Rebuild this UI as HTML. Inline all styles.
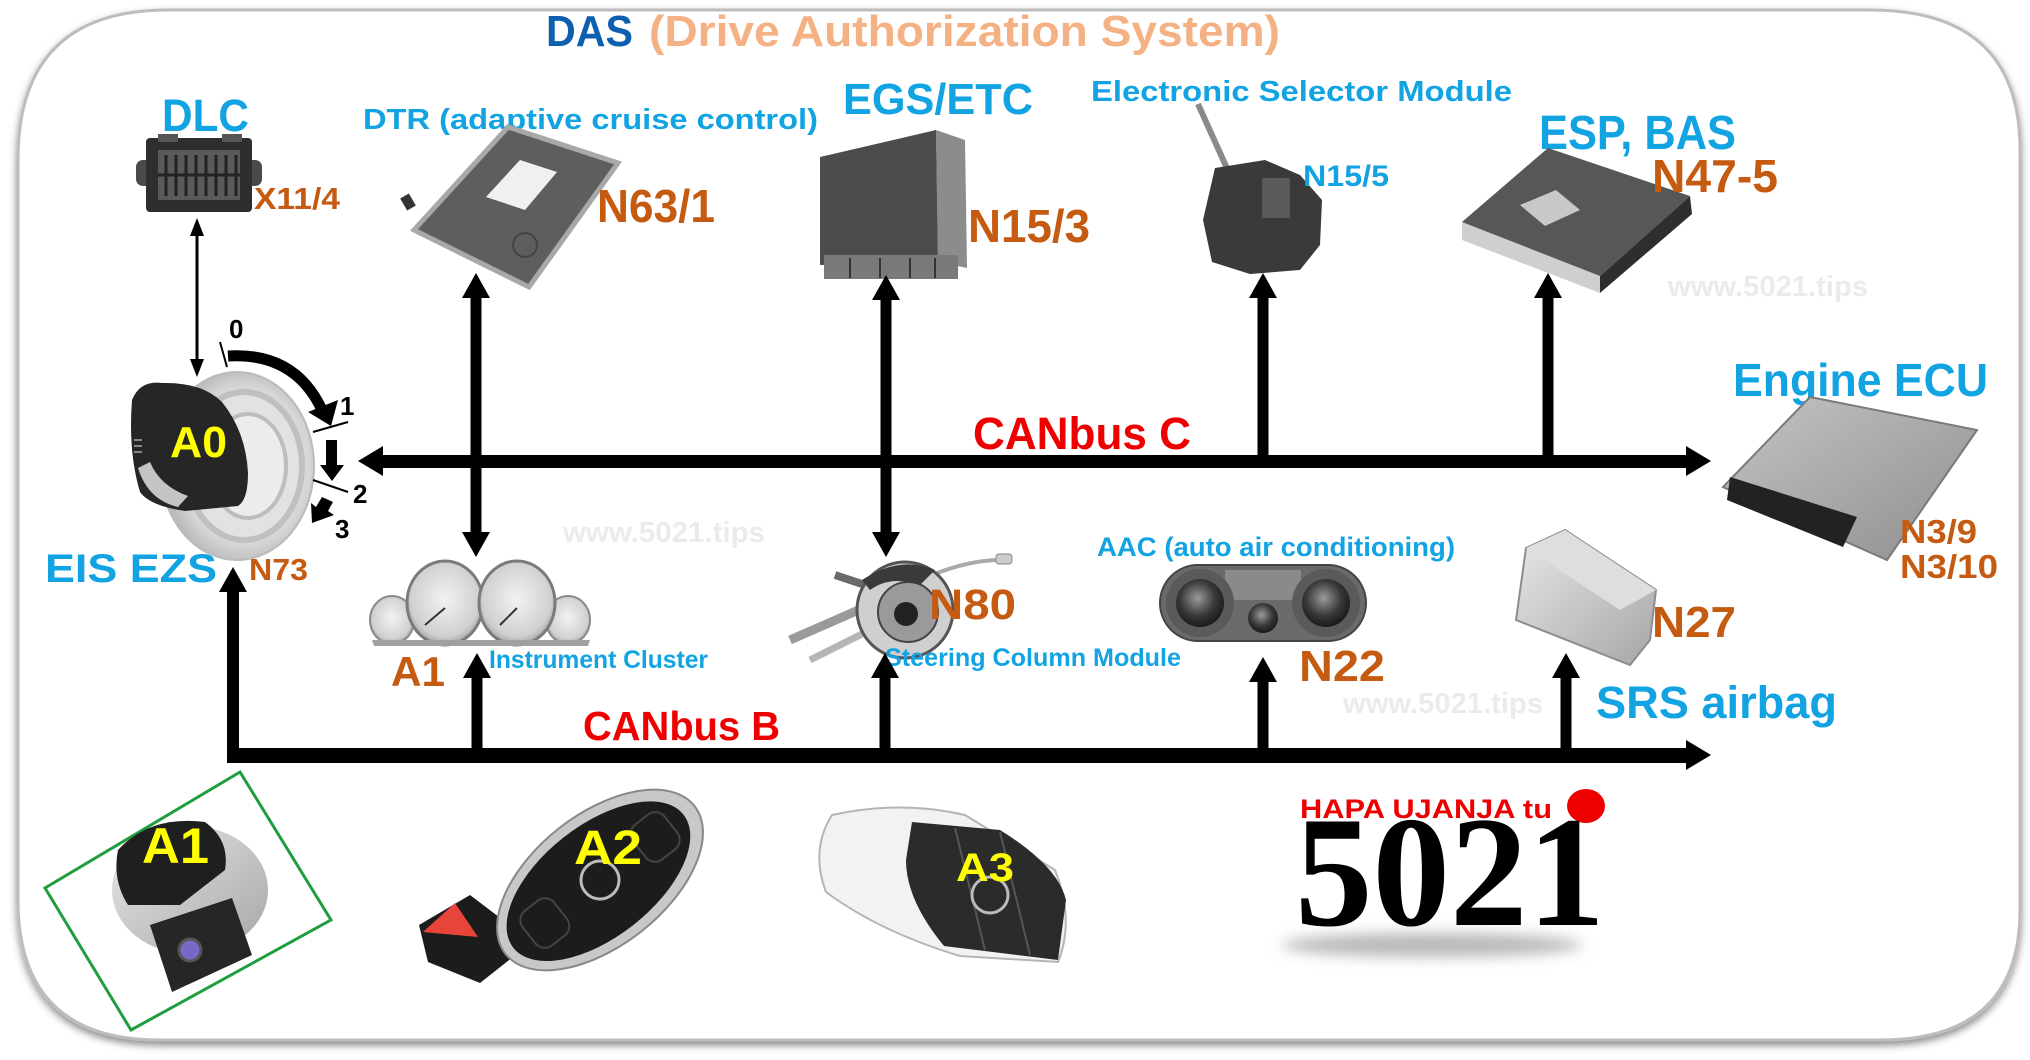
<!DOCTYPE html>
<html>
<head>
<meta charset="utf-8">
<style>
  html,body{margin:0;padding:0;background:#fff;}
  svg{display:block;}
  text{font-family:"Liberation Sans",Arial,sans-serif;font-weight:bold;}
  .b{fill:#12a3e3;}
  .o{fill:#c55a11;}
  .r{fill:#ee0000;}
  .y{fill:#ffff00;}
  .w{fill:#ebebeb;}
</style>
</head>
<body>
<svg width="2030" height="1060" viewBox="0 0 2030 1060" xmlns="http://www.w3.org/2000/svg">
  <defs>
    <filter id="sh" x="-5%" y="-5%" width="110%" height="115%">
      <feDropShadow dx="0" dy="4" stdDeviation="4" flood-color="#000" flood-opacity="0.45"/>
    </filter>
    <filter id="blur" x="-20%" y="-100%" width="140%" height="300%">
      <feGaussianBlur stdDeviation="7"/>
    </filter>
    <radialGradient id="ring" cx="0.55" cy="0.5" r="0.6">
      <stop offset="0" stop-color="#f4f4f4"/>
      <stop offset="0.7" stop-color="#d6d6d6"/>
      <stop offset="1" stop-color="#a8a8a8"/>
    </radialGradient>
    <radialGradient id="gauge" cx="0.5" cy="0.45" r="0.6">
      <stop offset="0" stop-color="#f2f2f2"/>
      <stop offset="0.75" stop-color="#d0d0d0"/>
      <stop offset="1" stop-color="#8a8a8a"/>
    </radialGradient>
    <radialGradient id="knob" cx="0.45" cy="0.4" r="0.6">
      <stop offset="0" stop-color="#9a9a9a"/>
      <stop offset="0.6" stop-color="#3a3a3a"/>
      <stop offset="1" stop-color="#1a1a1a"/>
    </radialGradient>
    <linearGradient id="silver" x1="0" y1="0" x2="1" y2="1">
      <stop offset="0" stop-color="#e8e8e8"/>
      <stop offset="1" stop-color="#a6a6a6"/>
    </linearGradient>
    <linearGradient id="ecu" x1="0" y1="0" x2="1" y2="1">
      <stop offset="0" stop-color="#c4c4c4"/>
      <stop offset="1" stop-color="#8e8e8e"/>
    </linearGradient>
  </defs>

  <!-- frame -->
  <path filter="url(#sh)" d="M168 10 L1870 10 Q2020 10 2020 150 L2020 910 Q2020 1040 1880 1040 L160 1040 Q18 1040 18 900 L18 160 Q18 10 168 10 Z" fill="#fff" stroke="#bdbdbd" stroke-width="3"/>

  <!-- Title -->
  <text x="546" y="46" font-size="44" fill="#0d5fb0" textLength="87" lengthAdjust="spacingAndGlyphs">DAS</text>
  <text x="649" y="46" font-size="44" fill="#f4b183" textLength="631" lengthAdjust="spacingAndGlyphs">(Drive Authorization System)</text>

  <!-- DLC -->
  <text x="162" y="131" font-size="45" class="b" textLength="87" lengthAdjust="spacingAndGlyphs">DLC</text>
  <rect x="136" y="160" width="16" height="26" rx="7" fill="#4a4a4a"/>
  <rect x="246" y="160" width="16" height="26" rx="7" fill="#4a4a4a"/>
  <rect x="146" y="138" width="106" height="74" rx="4" fill="#2e2e2e"/>
  <rect x="158" y="150" width="82" height="50" fill="#5a5a5a"/>
  <g stroke="#222" stroke-width="3">
    <line x1="166" y1="155" x2="166" y2="196"/><line x1="176" y1="155" x2="176" y2="196"/>
    <line x1="186" y1="155" x2="186" y2="196"/><line x1="196" y1="155" x2="196" y2="196"/>
    <line x1="206" y1="155" x2="206" y2="196"/><line x1="216" y1="155" x2="216" y2="196"/>
    <line x1="226" y1="155" x2="226" y2="196"/><line x1="236" y1="155" x2="236" y2="196"/>
    <line x1="158" y1="175" x2="240" y2="175"/>
  </g>
  <rect x="158" y="134" width="20" height="8" fill="#555"/><rect x="222" y="134" width="20" height="8" fill="#555"/>
  <text x="254" y="209" font-size="31" class="o" textLength="86" lengthAdjust="spacingAndGlyphs">X11/4</text>

  <!-- DLC thin double arrow -->
  <line x1="197" y1="232" x2="197" y2="362" stroke="#000" stroke-width="3"/>
  <polygon points="197,218 190,236 204,236" fill="#000"/>
  <polygon points="197,377 190,359 204,359" fill="#000"/>

  <!-- DTR -->
  <text x="363" y="129" font-size="29" class="b" textLength="455" lengthAdjust="spacingAndGlyphs">DTR (adaptive cruise control)</text>
  <polygon points="508,127 618,163 529,287 414,230" fill="#5e5e5e" stroke="#a8a8a8" stroke-width="5"/>
  <polygon points="520,160 557,172 525,210 486,197" fill="#f0f0f0"/>
  <circle cx="525" cy="245" r="12" fill="none" stroke="#444" stroke-width="2"/>
  <rect x="403" y="195" width="10" height="14" fill="#333" transform="rotate(-30 408 202)"/>
  <text x="597" y="222" font-size="46" class="o" textLength="118" lengthAdjust="spacingAndGlyphs">N63/1</text>

  <!-- EGS -->
  <text x="843" y="114" font-size="44" class="b" textLength="190" lengthAdjust="spacingAndGlyphs">EGS/ETC</text>
  <polygon points="936,130 965,140 967,268 938,262" fill="#8c8c8c"/>
  <polygon points="820,157 936,130 938,262 820,265" fill="#4c4c4c"/>
  <rect x="824" y="255" width="134" height="24" fill="#7a7a7a"/>
  <g stroke="#333" stroke-width="2">
    <line x1="850" y1="258" x2="850" y2="278"/><line x1="880" y1="258" x2="880" y2="278"/>
    <line x1="910" y1="258" x2="910" y2="278"/><line x1="935" y1="258" x2="935" y2="278"/>
  </g>
  <text x="968" y="242" font-size="46" class="o" textLength="122" lengthAdjust="spacingAndGlyphs">N15/3</text>

  <!-- Selector -->
  <text x="1091" y="101" font-size="29" class="b" textLength="421" lengthAdjust="spacingAndGlyphs">Electronic Selector Module</text>
  <line x1="1198" y1="104" x2="1230" y2="175" stroke="#8a8a8a" stroke-width="6"/>
  <path d="M1215 168 L1265 160 L1300 175 L1322 200 L1320 245 L1300 270 L1250 274 L1212 262 L1203 220 Z" fill="#3a3a3a"/>
  <rect x="1262" y="178" width="28" height="40" fill="#5a5a5a"/>
  <text x="1303" y="186" font-size="30" class="b" textLength="86" lengthAdjust="spacingAndGlyphs">N15/5</text>

  <!-- ESP -->
  <text x="1539" y="149" font-size="48" class="b" textLength="197" lengthAdjust="spacingAndGlyphs">ESP, BAS</text>
  <polygon points="1462,222 1600,276 1600,293 1462,240" fill="#cfcfcf"/>
  <polygon points="1600,276 1690,196 1692,214 1600,293" fill="#2e2e2e"/>
  <polygon points="1462,222 1548,148 1690,196 1600,276" fill="#575757"/>
  <polygon points="1520,205 1556,190 1580,210 1545,226" fill="#c8c8c8"/>
  <text x="1652" y="192" font-size="46" class="o" textLength="126" lengthAdjust="spacingAndGlyphs">N47-5</text>
  <text x="1668" y="296" font-size="29" class="w" textLength="200" lengthAdjust="spacingAndGlyphs">www.5021.tips</text>

  <!-- Engine ECU -->
  <text x="1733" y="396" font-size="46" class="b" textLength="255" lengthAdjust="spacingAndGlyphs">Engine ECU</text>
  <polygon points="1810,397 1977,430 1887,560 1723,487" fill="url(#ecu)" stroke="#7a7a7a" stroke-width="2"/>
  <polygon points="1730,477 1857,517 1843,547 1727,500" fill="#222"/>
  <text x="1900" y="543" font-size="33" class="o" textLength="77" lengthAdjust="spacingAndGlyphs">N3/9</text>
  <text x="1900" y="578" font-size="33" class="o" textLength="98" lengthAdjust="spacingAndGlyphs">N3/10</text>

  <!-- CANbus C -->
  <rect x="378" y="455" width="1312" height="13" fill="#000"/>
  <polygon points="358,461 383,446 383,476" fill="#000"/>
  <polygon points="1711,461 1686,446 1686,476" fill="#000"/>
  <text x="973" y="449" font-size="45" class="r" textLength="218" lengthAdjust="spacingAndGlyphs">CANbus C</text>

  <!-- verticals through bus C -->
  <rect x="470.5" y="295" width="11" height="240" fill="#000"/>
  <polygon points="476,273 462,298 490,298" fill="#000"/>
  <polygon points="476,557 462,532 490,532" fill="#000"/>
  <rect x="880.5" y="297" width="11" height="240" fill="#000"/>
  <polygon points="886,275 872,300 900,300" fill="#000"/>
  <polygon points="886,557 872,532 900,532" fill="#000"/>
  <rect x="1257.5" y="295" width="11" height="166" fill="#000"/>
  <polygon points="1263,273 1249,298 1277,298" fill="#000"/>
  <rect x="1542.5" y="295" width="11" height="166" fill="#000"/>
  <polygon points="1548,273 1534,298 1562,298" fill="#000"/>

  <!-- A0 ignition -->
  <ellipse cx="237" cy="466" rx="77" ry="94" fill="url(#ring)" stroke="#bbb" stroke-width="2"/>
  <ellipse cx="244" cy="466" rx="58" ry="74" fill="#e2e2e2" stroke="#c0c0c0" stroke-width="6"/>
  <ellipse cx="248" cy="466" rx="38" ry="52" fill="#ececec" stroke="#bdbdbd" stroke-width="4"/>
  <path d="M132 400 Q140 380 162 383 Q202 382 222 402 Q246 432 248 473 Q248 500 238 506 L185 511 Q150 506 140 492 Q128 452 132 400 Z" fill="#262626"/>
  <path d="M138 468 Q148 500 178 507 L188 496 Q160 486 150 462 Z" fill="#c4c4c4"/>
  <g stroke="#888" stroke-width="2"><line x1="134" y1="440" x2="142" y2="440"/><line x1="134" y1="446" x2="142" y2="446"/><line x1="134" y1="452" x2="142" y2="452"/></g>
  <text x="170" y="457" font-size="44" class="y" textLength="57" lengthAdjust="spacingAndGlyphs">A0</text>
  <!-- key positions -->
  <path d="M228 356 Q295 352 322 410" fill="none" stroke="#000" stroke-width="11"/>
  <polygon points="308,412 338,400 331,426" fill="#000"/>
  <line x1="220" y1="342" x2="227" y2="367" stroke="#000" stroke-width="2"/>
  <line x1="313" y1="432" x2="348" y2="422" stroke="#000" stroke-width="2"/>
  <rect x="326" y="440" width="11" height="28" fill="#000"/>
  <polygon points="320,465 344,465 332,481" fill="#000"/>
  <line x1="313" y1="480" x2="348" y2="492" stroke="#000" stroke-width="2"/>
  <polygon points="322,497 333,502 328,511 334,515 312,523 311,503 316,507" fill="#000"/>
  <text x="229" y="338" font-size="26" fill="#000">0</text>
  <text x="340" y="415" font-size="26" fill="#000">1</text>
  <text x="353" y="503" font-size="26" fill="#000">2</text>
  <text x="335" y="538" font-size="26" fill="#000">3</text>
  <text x="45" y="582" font-size="40" class="b" textLength="172" lengthAdjust="spacingAndGlyphs">EIS EZS</text>
  <text x="249" y="580" font-size="31" class="o" textLength="59" lengthAdjust="spacingAndGlyphs">N73</text>

  <!-- watermark -->
  <text x="563" y="542" font-size="29" class="w" textLength="202" lengthAdjust="spacingAndGlyphs">www.5021.tips</text>

  <!-- Instrument cluster -->
  <ellipse cx="392" cy="620" rx="22" ry="24" fill="url(#gauge)" stroke="#8a8a8a" stroke-width="2"/>
  <ellipse cx="568" cy="620" rx="22" ry="24" fill="url(#gauge)" stroke="#8a8a8a" stroke-width="2"/>
  <ellipse cx="445" cy="603" rx="38" ry="42" fill="url(#gauge)" stroke="#7a7a7a" stroke-width="3"/>
  <ellipse cx="517" cy="603" rx="38" ry="42" fill="url(#gauge)" stroke="#7a7a7a" stroke-width="3"/>
  <path d="M372 640 L590 640 L588 646 L374 646 Z" fill="#a0a0a0"/>
  <line x1="445" y1="608" x2="425" y2="625" stroke="#333" stroke-width="2"/>
  <line x1="517" y1="608" x2="500" y2="625" stroke="#333" stroke-width="2"/>
  <text x="391" y="686" font-size="42" class="o" textLength="54" lengthAdjust="spacingAndGlyphs">A1</text>
  <text x="489" y="668" font-size="25" class="b" textLength="219" lengthAdjust="spacingAndGlyphs">Instrument Cluster</text>

  <!-- Steering column module -->
  <path d="M932 575 Q970 560 1000 560" fill="none" stroke="#aaa" stroke-width="4"/>
  <rect x="996" y="554" width="16" height="10" rx="3" fill="#ccc" stroke="#888"/>
  <line x1="870" y1="605" x2="790" y2="640" stroke="#9a9a9a" stroke-width="9"/>
  <line x1="880" y1="625" x2="810" y2="660" stroke="#b5b5b5" stroke-width="7"/>
  <line x1="880" y1="590" x2="835" y2="575" stroke="#6a6a6a" stroke-width="8"/>
  <circle cx="905" cy="610" r="48" fill="#cfcfcf" stroke="#555" stroke-width="3"/>
  <circle cx="908" cy="612" r="30" fill="#9a9a9a" stroke="#444" stroke-width="2"/>
  <circle cx="906" cy="614" r="12" fill="#222"/>
  <path d="M862 580 Q900 555 935 570 L920 585 Q890 575 870 590 Z" fill="#3a3a3a"/>
  <text x="929" y="619" font-size="43" class="o" textLength="87" lengthAdjust="spacingAndGlyphs">N80</text>
  <text x="885" y="666" font-size="25" class="b" textLength="296" lengthAdjust="spacingAndGlyphs">Steering Column Module</text>

  <!-- AAC -->
  <text x="1097" y="556" font-size="27" class="b" textLength="358" lengthAdjust="spacingAndGlyphs">AAC (auto air conditioning)</text>
  <rect x="1160" y="565" width="206" height="76" rx="38" fill="#6a6a6a" stroke="#444" stroke-width="2"/>
  <rect x="1225" y="570" width="76" height="30" fill="#8a8a8a"/>
  <circle cx="1200" cy="603" r="34" fill="#5a5a5a"/>
  <circle cx="1326" cy="603" r="34" fill="#5a5a5a"/>
  <circle cx="1200" cy="603" r="24" fill="url(#knob)"/>
  <circle cx="1326" cy="603" r="24" fill="url(#knob)"/>
  <circle cx="1263" cy="618" r="15" fill="url(#knob)"/>
  <text x="1299" y="681" font-size="44" class="o" textLength="86" lengthAdjust="spacingAndGlyphs">N22</text>

  <!-- N27 airbag -->
  <polygon points="1526,548 1565,530 1656,590 1650,640 1630,665 1516,620" fill="url(#silver)" stroke="#8d8d8d" stroke-width="2"/>
  <polygon points="1526,548 1565,530 1656,590 1620,610" fill="#dedede"/>
  <text x="1652" y="637" font-size="44" class="o" textLength="84" lengthAdjust="spacingAndGlyphs">N27</text>
  <text x="1596" y="718" font-size="45" class="b" textLength="241" lengthAdjust="spacingAndGlyphs">SRS airbag</text>
  <text x="1343" y="713" font-size="29" class="w" textLength="200" lengthAdjust="spacingAndGlyphs">www.5021.tips</text>

  <!-- CANbus B -->
  <rect x="227" y="589" width="12" height="174" fill="#000"/>
  <polygon points="233,567 219,592 247,592" fill="#000"/>
  <rect x="227" y="748" width="1463" height="15" fill="#000"/>
  <polygon points="1711,755 1686,740 1686,770" fill="#000"/>
  <text x="583" y="740" font-size="41" class="r" textLength="197" lengthAdjust="spacingAndGlyphs">CANbus B</text>
  <!-- arrows up from bus B -->
  <rect x="471.5" y="675" width="11" height="75" fill="#000"/>
  <polygon points="477,653 463,678 491,678" fill="#000"/>
  <rect x="879.5" y="675" width="11" height="75" fill="#000"/>
  <polygon points="885,653 871,678 899,678" fill="#000"/>
  <rect x="1257.5" y="679" width="11" height="71" fill="#000"/>
  <polygon points="1263,657 1249,682 1277,682" fill="#000"/>
  <rect x="1560.5" y="675" width="11" height="75" fill="#000"/>
  <polygon points="1566,653 1552,678 1580,678" fill="#000"/>

  <!-- Key A1 -->
  <polygon points="240,772 331,920 131,1030 45,888" fill="none" stroke="#1e9e3e" stroke-width="3"/>
  <ellipse cx="190" cy="890" rx="78" ry="64" fill="url(#silver)"/>
  <path d="M118 850 Q150 815 205 822 Q230 840 225 870 L180 905 L128 905 Q112 880 118 850 Z" fill="#1f1f1f"/>
  <polygon points="150,925 232,898 252,955 172,992" fill="#262626"/>
  <circle cx="190" cy="950" r="11" fill="#7a68c8" stroke="#555" stroke-width="3"/>
  <text x="142" y="863" font-size="50" class="y" textLength="67" lengthAdjust="spacingAndGlyphs">A1</text>

  <!-- Key A2 -->
  <polygon points="419,925 470,895 532,942 480,983 428,962" fill="#1c1c1c"/>
  <polygon points="423,932 455,903 478,937" fill="#e8453a"/>
  <g transform="rotate(-38 600 880)">
    <ellipse cx="600" cy="880" rx="120" ry="66" fill="#c8c8c8" stroke="#888" stroke-width="2"/>
    <ellipse cx="598" cy="880" rx="108" ry="56" fill="#1c1c1c"/>
    <rect x="510" y="858" width="40" height="44" rx="12" fill="none" stroke="#444" stroke-width="2"/>
    <rect x="650" y="858" width="40" height="44" rx="12" fill="none" stroke="#444" stroke-width="2"/>
    <circle cx="600" cy="880" r="19" fill="none" stroke="#bbb" stroke-width="3"/>
  </g>
  <text x="574" y="864" font-size="48" class="y" textLength="68" lengthAdjust="spacingAndGlyphs">A2</text>

  <!-- Key A3 -->
  <path d="M832 815 Q900 800 965 815 L1055 870 Q1075 920 1058 962 L960 956 Q880 932 826 892 Q810 850 832 815 Z" fill="#f2f2f2" stroke="#b5b5b5" stroke-width="2"/>
  <path d="M912 822 L1000 830 Q1058 866 1066 900 L1058 960 L944 946 Q906 900 906 860 Z" fill="#2b2b2b"/>
  <line x1="955" y1="828" x2="985" y2="950" stroke="#555" stroke-width="2"/>
  <line x1="1000" y1="832" x2="1030" y2="955" stroke="#555" stroke-width="2"/>
  <circle cx="990" cy="895" r="18" fill="none" stroke="#bbb" stroke-width="3"/>
  <text x="956" y="881" font-size="40" class="y" textLength="58" lengthAdjust="spacingAndGlyphs">A3</text>

  <!-- Logo -->
  <ellipse cx="1432" cy="945" rx="150" ry="12" fill="#b8b8b8" filter="url(#blur)"/>
  <text x="1300" y="818" font-size="27" class="r" textLength="252" lengthAdjust="spacingAndGlyphs">HAPA UJANJA tu</text>
  <ellipse cx="1586" cy="806" rx="19" ry="17" fill="#ee0000"/>
  <text x="1295" y="925" font-size="158" fill="#000" style="font-family:'Liberation Serif',serif;font-weight:bold;" textLength="310" lengthAdjust="spacingAndGlyphs">5021</text>
</svg>
</body>
</html>
